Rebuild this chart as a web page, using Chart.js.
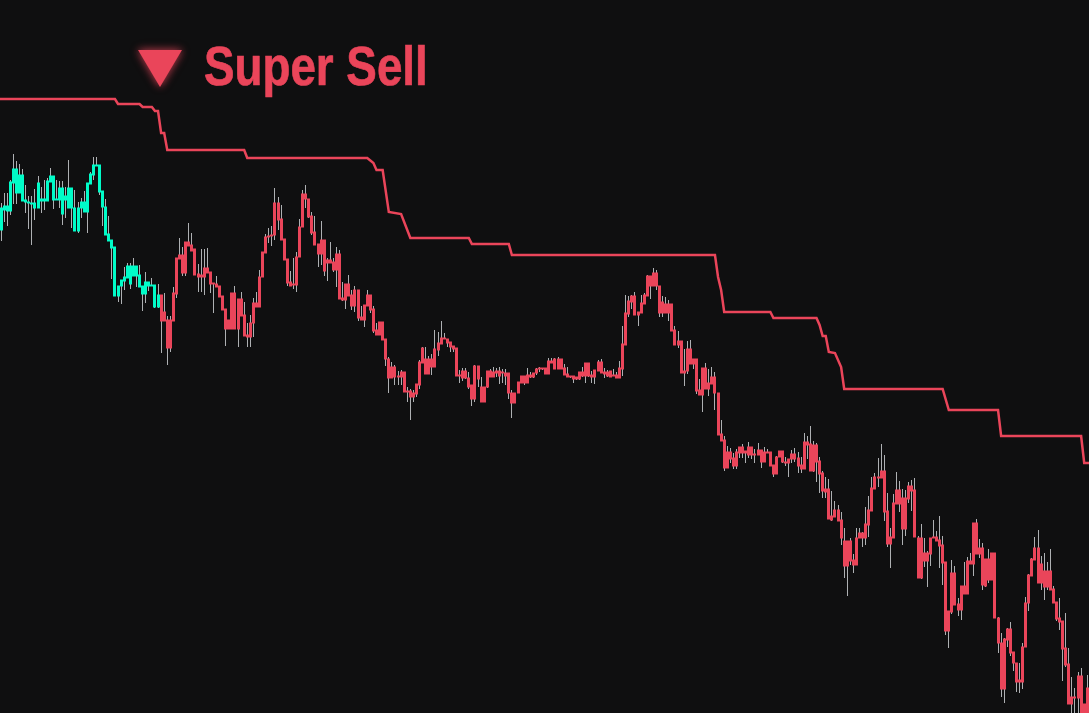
<!DOCTYPE html>
<html>
<head>
<meta charset="utf-8">
<title>Super Sell</title>
<script src="https://cdn.jsdelivr.net/npm/chart.js@4/dist/chart.umd.min.js"></script>
<style>
  html, body { margin: 0; padding: 0; background: #0f0f10; overflow: hidden; }
  #wrap { position: relative; width: 1089px; height: 713px; }
  canvas { display: block; }
  /* original font is a narrow grotesque, squeeze Liberation Sans to fit */
  #signal { position: absolute; left: 204px; top: 32px; color: #ea455a; white-space: nowrap;
            font: bold 56px/68px "Liberation Sans", sans-serif;
            -webkit-text-stroke: 0.7px #ea455a;
            transform: scaleX(.817); transform-origin: left top; }
  #marker { position: absolute; left: 138px; top: 50px; width: 44px; height: 37px; overflow: visible;
            filter: drop-shadow(0 0 4px rgba(234, 69, 90, .6)) drop-shadow(0 0 3px rgba(234, 69, 90, .3)); }
</style>
</head>
<body>
<div id="wrap">
  <canvas id="myChart" width="1089" height="713"></canvas>
  <svg id="marker" viewBox="0 0 44 37"><polygon points="0,0 44,0 22,37" fill="#ea455a"/></svg>
  <div id="signal">Super Sell</div>
</div>
<script>
const bearColor = '#ea455a';
const bullColor = '#00fcc8';
const wickColor = '#aeb0b3';

// first candles are painted teal, everything after is red
const bullCandles = 52;

const bodyHigh = [
  505,507,507,531,544,544,538,538,513,511,
  510,510,530,514,514,532,537,537,514,525,
  525,517,525,525,505,505,511,511,530,539,
  548,548,548,522,506,479,473,466,427,433,
  436,447,447,447,447,438,427,431,431,428,
  428,418,418,401,393,393,420,455,458,458,
  471,471,468,464,439,438,445,445,441,430,
  429,427,417,404,393,420,420,414,414,398,
  378,390,410,410,436,461,476,477,478,510,
  510,494,474,454,431,429,456,486,519,519,
  514,497,481,469,473,473,453,453,451,459,
  459,415,429,429,418,423,423,396,408,418,
  418,404,383,391,391,374,354,346,346,337,
  341,341,322,322,320,329,351,365,354,354,
  354,364,370,375,375,374,371,367,365,338,
  342,342,335,328,347,347,326,326,342,342,
  341,342,342,341,340,340,320,320,331,337,
  337,338,338,340,344,345,345,345,352,352,
  354,354,354,345,339,337,337,336,341,341,
  350,350,338,343,351,351,341,341,342,338,
  338,345,369,400,412,417,417,401,410,418,
  437,437,440,440,427,411,409,409,409,383,
  372,372,342,364,364,354,354,323,345,345,
  330,336,336,320,279,273,261,261,255,261,
  266,266,262,266,266,259,263,263,261,261,
  261,248,256,262,262,251,254,259,259,255,
  248,271,271,269,268,268,252,240,224,224,
  197,203,203,193,172,172,172,153,175,180,
  180,189,203,225,236,236,242,242,202,176,
  210,223,223,215,215,227,227,223,175,175,
  160,160,175,176,176,173,168,151,102,140,
  140,109,127,127,152,152,190,190,165,165,
  154,154,160,160,95,70,74,84,84,61,
  50,33,66,110,138,154,165,165,149,142,
  142,142,124,111,95,92,65,49,16,16,
  37,37,9,25,25
];

const bodyLow = [
  483,503,502,502,530,520,520,512,511,510,
  509,505,505,512,512,512,531,513,513,513,
  499,513,505,505,482,482,505,501,501,529,
  538,547,521,506,478,472,465,417,417,427,
  432,435,429,437,437,426,419,419,427,427,
  406,406,392,392,365,365,392,419,454,440,
  440,467,462,438,436,436,436,440,429,429,
  426,416,403,384,384,384,384,384,397,377,
  376,376,390,406,406,436,460,476,477,478,
  493,473,453,430,427,428,428,456,486,514,
  496,480,468,459,459,442,450,450,443,443,
  414,413,413,417,407,407,395,393,393,407,
  403,382,378,378,373,354,335,335,336,336,
  336,321,321,316,316,319,328,350,339,339,
  346,346,363,369,374,370,366,364,337,337,
  335,335,326,314,314,334,311,311,326,336,
  336,340,337,340,337,320,310,310,320,330,
  330,330,336,336,340,344,344,339,339,350,
  344,344,344,338,336,336,334,334,334,337,
  337,337,336,336,342,340,339,337,336,337,
  335,335,344,368,399,411,398,398,400,409,
  417,427,427,427,400,400,400,400,382,368,
  368,340,340,342,349,349,322,318,318,324,
  324,329,320,278,272,245,245,254,247,247,
  260,260,260,258,258,258,258,251,251,260,
  247,239,239,256,251,250,250,254,254,247,
  244,244,268,242,242,251,239,222,221,194,
  193,196,192,175,147,147,152,148,148,175,
  175,175,188,202,224,235,235,201,169,169,
  175,209,209,184,184,214,222,176,135,135,
  152,152,159,175,172,167,150,82,82,101,
  108,103,103,119,119,149,149,159,159,128,
  127,133,133,95,70,24,24,73,60,50,
  31,31,31,66,110,137,153,130,130,126,
  126,123,110,94,91,64,48,9,9,15,
  15,-7,-7,-7,-7
];

const wickHigh = [
  510,520,520,533,559,552,549,544,528,517,
  517,524,537,526,533,535,545,537,533,532,
  532,526,553,523,523,511,515,522,530,541,
  556,556,548,522,514,497,473,466,427,433,
  446,450,450,455,447,448,427,441,431,435,
  428,429,418,420,397,397,426,455,475,466,
  471,490,480,464,449,464,464,465,441,430,
  437,427,417,404,393,420,427,414,421,411,
  390,398,415,421,443,461,479,485,487,525,
  516,508,474,454,442,455,461,494,523,528,
  514,501,497,469,492,473,455,471,455,466,
  463,431,429,438,423,427,423,407,408,423,
  418,407,390,391,391,374,356,351,348,342,
  343,341,326,324,323,329,353,366,366,357,
  359,383,381,392,380,374,371,367,365,343,
  345,345,341,328,348,347,336,326,342,344,
  346,345,346,344,344,340,323,320,331,337,
  337,345,341,340,345,346,345,345,355,355,
  355,356,354,349,346,337,337,336,341,346,
  350,350,342,343,353,354,345,343,342,344,
  341,352,387,418,417,418,421,401,418,420,
  438,437,445,443,427,417,416,413,409,387,
  382,372,364,372,373,354,354,334,345,350,
  344,346,341,320,293,277,267,265,260,264,
  266,269,262,271,266,264,270,263,266,264,
  261,248,257,262,262,256,254,263,265,261,
  256,280,277,287,272,270,256,242,236,234,
  222,212,208,201,185,172,175,159,185,185,
  181,206,217,236,240,255,269,258,220,185,
  219,241,232,224,223,231,233,235,177,189,
  175,162,175,193,182,197,177,151,102,153,
  147,115,127,151,156,160,190,194,174,170,
  154,164,160,160,96,80,75,85,91,61,
  50,50,70,116,139,155,176,183,157,160,
  151,164,127,111,115,92,100,65,36,25,
  41,45,9,38,33
];

const wickLow = [
  472,491,487,498,509,509,520,512,500,484,
  468,493,505,500,503,512,531,504,513,505,
  488,495,505,485,484,480,495,501,480,529,
  533,547,518,487,478,472,434,417,411,409,
  423,435,424,437,426,426,402,410,422,427,
  405,405,360,392,348,361,392,415,454,437,
  437,467,462,438,421,421,418,440,420,400,
  426,416,403,367,384,384,384,366,397,377,
  366,366,376,406,406,436,460,470,467,473,
  483,473,453,427,427,424,421,456,486,505,
  495,478,468,446,448,437,432,450,441,426,
  414,412,404,417,403,401,392,393,386,407,
  400,380,378,378,373,347,320,335,328,328,
  328,321,311,293,311,316,324,350,339,339,
  338,346,357,369,374,366,361,361,337,330,
  332,334,324,307,311,326,311,311,325,336,
  336,336,329,330,328,314,295,310,320,330,
  328,330,335,335,338,341,343,339,339,350,
  344,344,344,338,336,335,330,333,333,336,
  330,336,330,329,342,340,335,336,336,337,
  335,335,337,368,396,404,398,387,400,409,
  417,414,427,423,396,396,400,392,382,368,
  365,340,327,339,349,344,319,318,301,324,
  317,329,303,278,272,242,245,250,244,244,
  255,255,250,255,254,250,258,245,251,260,
  247,236,239,256,250,247,236,250,251,240,
  240,244,254,242,241,231,220,215,215,194,
  192,196,192,168,135,117,148,140,148,175,
  166,168,176,202,224,226,235,192,166,145,
  175,209,201,168,177,210,202,176,135,134,
  146,126,147,175,172,145,128,78,65,99,
  108,97,93,119,119,149,137,159,155,123,
  126,130,133,95,60,16,10,66,57,42,
  21,20,24,66,102,137,153,130,123,113,
  123,123,110,92,83,32,46,9,-7,-7,
  -7,-7,-7,-7,-7
];

// trailing stop, only the candles where it changes direction
const trailCandles = [-1,37,38,45,46,49,50,51,52,53,54,79,80,119,121,122,124,126,130,133,152,153,165,166,232,233,234,235,250,251,265,266,267,268,269,271,273,274,306,308,324,325,350,351,352,355];
const trailLevels = [614,614,609,609,606,606,602,602,580,580,563,563,555,555,550,543,543,501,499,475,475,469,469,458,458,436,423,401,401,395,395,388,377,377,361,360,346,324,324,303,303,277,277,277,250,250];

const candleIndex = bodyHigh.map((v, i) => i);

function toBars(high, low) {
    return candleIndex.map(i => ({ x: i, y: [low[i], high[i]] }));
}

// keeps candles on whole pixels so bars stay crisp like the original
const snapBars = {
    id: 'snapBars',
    afterDatasetsUpdate(chart) {
        chart.data.datasets.forEach((ds, d) => {
            if (ds.type !== 'bar') return;
            chart.getDatasetMeta(d).data.forEach(bar => {
                bar.x = Math.floor(bar.x) + 0.5;
            });
        });
    }
};

const config = {
    data: {
        datasets: [
            {
                type: 'bar',
                order: 1,
                data: toBars(bodyHigh, bodyLow),
                backgroundColor: candleIndex.map(i => i < bullCandles ? bullColor : bearColor),
                borderWidth: 0,
                borderSkipped: false,
                // 2 + 0.5 each side = 3 wide, and flat candles keep some height
                inflateAmount: 0.5,
                grouped: false,
                barThickness: 2,
                barPercentage: 1,
                categoryPercentage: 1
            },
            {
                type: 'bar',
                order: 2,
                data: toBars(wickHigh, wickLow),
                backgroundColor: wickColor,
                borderWidth: 0,
                borderSkipped: false,
                inflateAmount: 0,
                grouped: false,
                barThickness: 1,
                barPercentage: 1,
                categoryPercentage: 1
            },
            {
                type: 'line',
                order: 0,
                data: trailCandles.map((c, i) => ({ x: c, y: trailLevels[i] })),
                borderColor: bearColor,
                borderWidth: 2.5,
                pointRadius: 0,
                tension: 0
            }
        ]
    },
    options: {
        responsive: false,
        animation: false,
        layout: { padding: 0 },
        plugins: { legend: { display: false }, title: { display: false }, tooltip: { enabled: false } },
        scales: {
            x: { type: 'linear', display: false, offset: false, min: -0.36, max: 353.56 },
            y: { type: 'linear', display: false, min: 0, max: 713 }
        }
    },
    plugins: [snapBars]
};

new Chart(document.getElementById('myChart'), config);
</script>
</body>
</html>
